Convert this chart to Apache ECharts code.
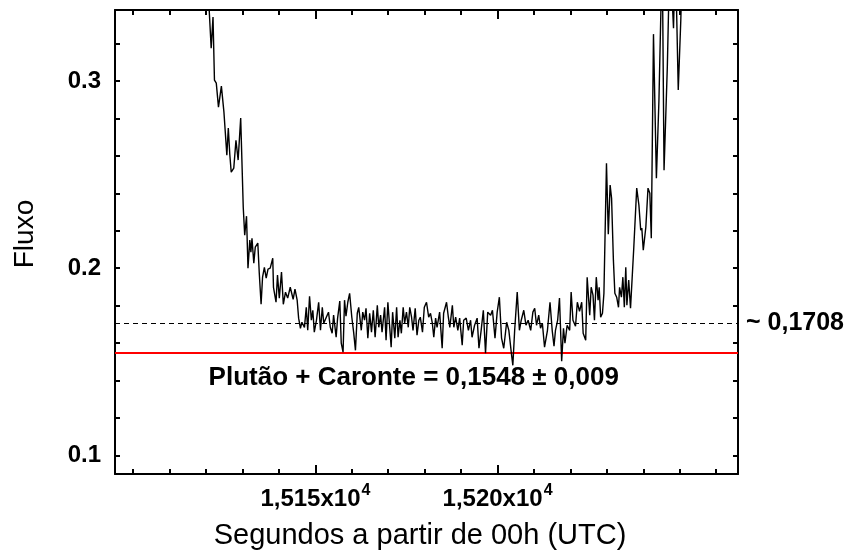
<!DOCTYPE html>
<html>
<head>
<meta charset="utf-8">
<script src="https://cdn.jsdelivr.net/npm/echarts@6/dist/echarts.min.js"></script>
<style>
  html, body { margin: 0; padding: 0; background: #fff; }
  #chart { width: 850px; height: 555px; }
</style>
</head>
<body>
<div id="chart"></div>
<script>
// Light curve: time (s since 00h UTC) and measured flux
const timeSec = [
  15120.0, 15121.4, 15121.9, 15122.3, 15122.8, 15123.4, 15124.2, 15124.9, 15125.7, 15126.1,
  15126.5, 15126.9, 15127.6, 15128.2, 15128.8, 15129.5, 15130.2, 15130.6, 15131.1, 15131.5,
  15132.0, 15132.3, 15132.6, 15133.1, 15133.5, 15134.2, 15134.6, 15135.1, 15135.5, 15136.0,
  15136.5, 15137.0, 15137.6, 15138.3, 15138.5, 15139.2, 15139.6, 15140.1, 15140.7, 15141.2,
  15141.8, 15142.4, 15143.1, 15143.9, 15144.4, 15145.0, 15145.4, 15145.9, 15146.3, 15147.0,
  15147.5, 15147.9, 15148.4, 15148.9, 15149.3, 15149.7, 15150.3, 15150.9, 15151.4, 15151.9,
  15152.3, 15153.0, 15153.6, 15154.1, 15154.6, 15155.0, 15155.7, 15156.1, 15156.7, 15157.1,
  15157.6, 15158.0, 15158.4, 15158.9, 15159.4, 15160.0, 15160.5, 15161.0, 15161.5, 15161.9,
  15162.6, 15163.0, 15163.5, 15163.9, 15164.4, 15164.9, 15165.4, 15165.9, 15166.4, 15167.0,
  15167.4, 15167.9, 15168.3, 15169.0, 15169.4, 15169.9, 15170.4, 15170.8, 15171.2, 15171.8,
  15172.3, 15172.7, 15173.2, 15173.6, 15174.1, 15174.5, 15175.0, 15175.5, 15175.9, 15176.4,
  15176.8, 15177.4, 15177.9, 15178.4, 15178.8, 15179.4, 15179.9, 15180.5, 15181.1, 15181.6,
  15182.1, 15182.5, 15183.0, 15183.4, 15184.1, 15184.8, 15185.2, 15186.0, 15186.5, 15186.9,
  15187.6, 15188.0, 15188.5, 15189.1, 15189.6, 15190.3, 15190.7, 15191.4, 15192.0, 15192.6,
  15193.0, 15193.7, 15194.4, 15194.9, 15195.5, 15196.1, 15196.7, 15197.3, 15198.1, 15198.6,
  15199.3, 15199.9, 15200.5, 15201.1, 15201.7, 15202.5, 15203.1, 15203.8, 15204.2, 15204.7,
  15205.4, 15206.0, 15206.5, 15207.2, 15207.8, 15208.4, 15209.1, 15209.7, 15210.2, 15210.7,
  15211.3, 15211.8, 15212.3, 15212.9, 15213.7, 15214.4, 15215.0, 15215.5, 15215.9, 15216.5,
  15217.0, 15217.6, 15218.1, 15218.5, 15219.1, 15219.8, 15220.2, 15220.7, 15221.4, 15221.9,
  15222.5, 15223.1, 15223.5, 15224.2, 15224.6, 15225.3, 15225.7, 15226.2, 15226.6, 15227.1,
  15227.6, 15227.9, 15228.3, 15228.8, 15229.2, 15229.9, 15230.4, 15230.9, 15231.3, 15231.8,
  15232.2, 15232.7, 15233.2, 15233.5, 15234.0, 15234.4, 15234.8, 15235.2, 15235.5, 15236.0,
  15236.5, 15237.4, 15238.2, 15238.8, 15239.3, 15239.6, 15240.0, 15240.7, 15241.3, 15241.8,
  15242.2, 15242.8, 15243.6, 15244.3, 15245.2, 15245.7, 15246.6, 15247.3, 15248.3, 15248.8,
  15249.6, 15250.3, 15250.8
];
const flux = [
  0.3700, 0.3176, 0.3342, 0.3005, 0.2989, 0.2861, 0.2973, 0.2834, 0.2604, 0.2749,
  0.2610, 0.2513, 0.2535, 0.2684, 0.2578, 0.2802, 0.2326, 0.2176, 0.2278, 0.2000,
  0.2150, 0.2086, 0.2160, 0.2027, 0.2112, 0.2134, 0.1973, 0.1807, 0.1952, 0.2005,
  0.1947, 0.1995, 0.2000, 0.2053, 0.1898, 0.1818, 0.1963, 0.1840, 0.1979, 0.1807,
  0.1872, 0.1840, 0.1898, 0.1834, 0.1888, 0.1829, 0.1733, 0.1679, 0.1711, 0.1684,
  0.1791, 0.1668, 0.1850, 0.1722, 0.1775, 0.1658, 0.1722, 0.1818, 0.1668, 0.1791,
  0.1706, 0.1738, 0.1765, 0.1684, 0.1652, 0.1749, 0.1631, 0.1733, 0.1824, 0.1599,
  0.1551, 0.1829, 0.1743, 0.1818, 0.1866, 0.1738, 0.1658, 0.1561, 0.1759, 0.1791,
  0.1668, 0.1765, 0.1722, 0.1786, 0.1626, 0.1759, 0.1658, 0.1775, 0.1631, 0.1802,
  0.1684, 0.1749, 0.1658, 0.1791, 0.1615, 0.1818, 0.1684, 0.1578, 0.1765, 0.1626,
  0.1791, 0.1631, 0.1722, 0.1652, 0.1791, 0.1706, 0.1765, 0.1684, 0.1791, 0.1738,
  0.1668, 0.1786, 0.1642, 0.1722, 0.1738, 0.1658, 0.1791, 0.1818, 0.1738, 0.1759,
  0.1706, 0.1631, 0.1733, 0.1684, 0.1765, 0.1572, 0.1759, 0.1818, 0.1738, 0.1684,
  0.1802, 0.1684, 0.1738, 0.1668, 0.1733, 0.1588, 0.1722, 0.1733, 0.1668, 0.1722,
  0.1631, 0.1695, 0.1733, 0.1572, 0.1668, 0.1775, 0.1545, 0.1765, 0.1749, 0.1775,
  0.1626, 0.1765, 0.1845, 0.1626, 0.1572, 0.1711, 0.1668, 0.1545, 0.1481, 0.1668,
  0.1872, 0.1668, 0.1722, 0.1775, 0.1695, 0.1722, 0.1668, 0.1765, 0.1786, 0.1695,
  0.1749, 0.1679, 0.1706, 0.1578, 0.1668, 0.1818, 0.1668, 0.1583, 0.1668, 0.1722,
  0.1840, 0.1503, 0.1679, 0.1599, 0.1695, 0.1668, 0.1872, 0.1722, 0.1690, 0.1818,
  0.1770, 0.1818, 0.1652, 0.1615, 0.1952, 0.1749, 0.1898, 0.1856, 0.1722, 0.1952,
  0.1829, 0.1898, 0.1738, 0.1759, 0.1866, 0.2561, 0.2182, 0.2444, 0.2374, 0.2043,
  0.1866, 0.1845, 0.1791, 0.1898, 0.1845, 0.1952, 0.1791, 0.2005, 0.1802, 0.1936,
  0.1786, 0.2112, 0.2428, 0.2337, 0.2203, 0.2214, 0.2096, 0.2219, 0.2428, 0.2401,
  0.2160, 0.3251, 0.2481, 0.2898, 0.3700, 0.2524, 0.3075, 0.3700, 0.3283, 0.3700,
  0.2952, 0.3326, 0.3700
];

// Reference levels
const plateauFlux = 0.1708;
const baselineFlux = 0.1548;
const baselineErr = 0.009;

// Axis ranges and ticks
const xMin = 15095, xMax = 15266;
const yMin = 0.09, yMax = 0.338;
const xLabelValues = [15150, 15200];
const xTickValues = [15100, 15110, 15120, 15130, 15140, 15150, 15160, 15170, 15180, 15190, 15200, 15210, 15220, 15230, 15240, 15250, 15260];
const yLabelValues = [0.1, 0.2, 0.3];
const yTickValues = [0.1, 0.12, 0.14, 0.16, 0.18, 0.2, 0.22, 0.24, 0.26, 0.28, 0.3, 0.32];

const comma = (v, d) => v.toFixed(d).replace('.', ',');
const FONT = 'Liberation Sans, Arial, sans-serif';

const chart = echarts.init(document.getElementById('chart'), null, { renderer: 'canvas' });

const frameLine = { show: true, lineStyle: { color: '#000', width: 2 } };
function xAxisDef(position, ticks, tickLen, withLabels, withLine) {
  return {
    type: 'value', position, min: xMin, max: xMax,
    axisLine: withLine ? frameLine : { show: false },
    axisTick: { show: true, inside: true, length: tickLen, customValues: ticks, lineStyle: { color: '#000', width: 2 } },
    axisLabel: withLabels ? {
      show: true, customValues: xLabelValues, margin: 9, color: '#000',
      formatter: v => `{m|${comma(v / 1e4, 3)}x10}{s|4}`,
      rich: {
        m: { fontFamily: FONT, fontWeight: 'bold', fontSize: 24, color: '#000', lineHeight: 28, verticalAlign: 'bottom' },
        s: { fontFamily: FONT, fontWeight: 'bold', fontSize: 16, color: '#000', verticalAlign: 'top', padding: [0, 0, 0, 1] }
      }
    } : { show: false },
    splitLine: { show: false }
  };
}
function yAxisDef(position, ticks, tickLen, withLabels, withLine) {
  return {
    type: 'value', position, min: yMin, max: yMax,
    axisLine: withLine ? frameLine : { show: false },
    axisTick: { show: true, inside: true, length: tickLen, customValues: ticks, lineStyle: { color: '#000', width: 2 } },
    axisLabel: withLabels ? {
      show: true, customValues: yLabelValues, margin: 14, color: '#000',
      fontFamily: FONT, fontWeight: 'bold', fontSize: 24,
      formatter: v => v.toFixed(1)
    } : { show: false },
    splitLine: { show: false }
  };
}

chart.setOption({
  animation: false,
  backgroundColor: '#fff',
  grid: { left: 115, right: 112, top: 10, bottom: 81 },
  xAxis: [
    xAxisDef('bottom', xLabelValues, 9, true, true),
    xAxisDef('bottom', xTickValues, 5, false, false),
    xAxisDef('top', xLabelValues, 9, false, true),
    xAxisDef('top', xTickValues, 5, false, false)
  ],
  yAxis: [
    yAxisDef('left', yTickValues, 5, true, true),
    yAxisDef('right', yTickValues, 5, false, true)
  ],
  series: [{
    type: 'line',
    xAxisIndex: 0, yAxisIndex: 0,
    data: timeSec.map((t, i) => [t, flux[i]]),
    showSymbol: false,
    clip: true,
    lineStyle: { color: '#000', width: 1.4 },
    z: 3,
    markLine: {
      silent: true,
      symbol: 'none',
      precision: 4,
      z: 2,
      data: [
        {
          yAxis: plateauFlux,
          lineStyle: { color: '#000', width: 1.2, type: [5, 4] },
          label: {
            show: true, position: 'end', distance: 8,
            formatter: '~ ' + comma(plateauFlux, 4),
            fontFamily: FONT, fontWeight: 'bold', fontSize: 25, color: '#000'
          }
        },
        {
          yAxis: baselineFlux,
          lineStyle: { color: '#ff0000', width: 2, type: 'solid' },
          label: { show: false }
        }
      ]
    }
  }]
});

// Titles and the baseline annotation, placed from the axis scales
const yBase = chart.convertToPixel({ yAxisIndex: 0 }, baselineFlux);
const xMid = chart.convertToPixel({ xAxisIndex: 0 }, 15177);
chart.setOption({
  graphic: [
    {
      type: 'text', x: 420, y: 536,
      style: { text: 'Segundos a partir de 00h (UTC)', font: `29px ${FONT}`, fill: '#000', align: 'center', verticalAlign: 'middle' }
    },
    {
      type: 'text', x: 25, y: 234, rotation: Math.PI / 2,
      style: { text: 'Fluxo', font: `28px ${FONT}`, fill: '#000', align: 'center', verticalAlign: 'middle' }
    },
    {
      type: 'text', x: xMid, y: yBase + 25,
      style: {
        text: `Plutão + Caronte = ${comma(baselineFlux, 4)} ± ${comma(baselineErr, 3)}`,
        font: `bold 26px ${FONT}`, fill: '#000', align: 'center', verticalAlign: 'middle'
      }
    }
  ]
});
</script>
</body>
</html>
